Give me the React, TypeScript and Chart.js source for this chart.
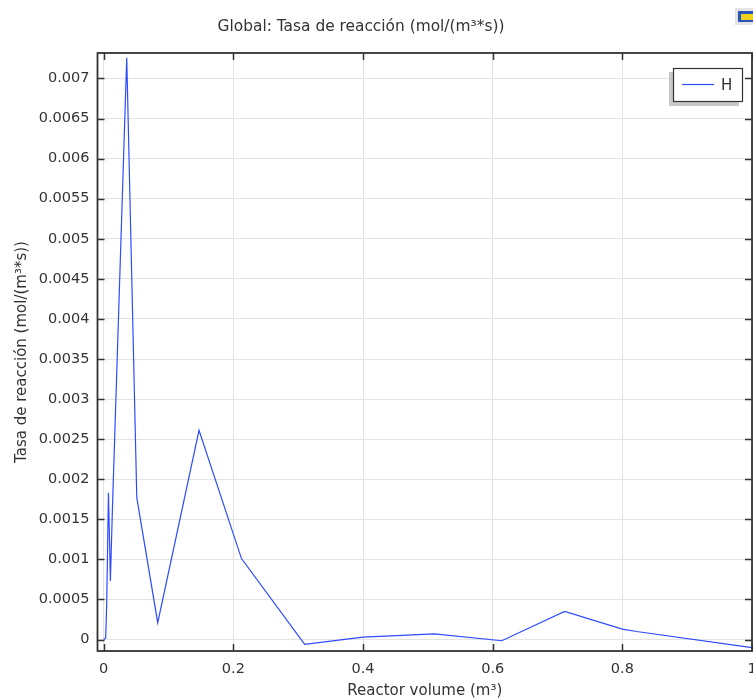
import React, { useEffect, useRef } from "react";
import { Chart, registerables } from "chart.js";

Chart.register(...registerables);

// Reactor volume (m³) and hydrogen reaction rate (mol/(m³*s)) along the reactor
const volume = [
  0, 0.003, 0.0046, 0.0073, 0.0103, 0.0134, 0.0355, 0.051, 0.0833, 0.147,
  0.2125, 0.31, 0.4, 0.51, 0.614, 0.711, 0.8, 0.822, 1.0,
];
const rate = [
  0, 0.00002, 0.00045, 0.00183, 0.00073, 0.00163, 0.00726, 0.00177, 0.00021,
  0.00261, 0.00101, -0.00006, 0.00003, 0.00007, -0.000015, 0.00035, 0.00013,
  0.0001, -0.0001,
];

const seriesLabel = "H";
const chartTitle = "Global: Tasa de reacción (mol/(m³*s))";
const xTitle = "Reactor volume (m³)";
const yTitle = "Tasa de reacción (mol/(m³*s))";

const xTickValues = [0, 0.2, 0.4, 0.6, 0.8, 1];
const yTickValues = [
  0, 0.0005, 0.001, 0.0015, 0.002, 0.0025, 0.003, 0.0035, 0.004, 0.0045,
  0.005, 0.0055, 0.006, 0.0065, 0.007,
];

const FONT = "'DejaVu Sans', sans-serif";
const TEXT = "#333333";
const LINE = "rgb(45, 75, 255)";

const fmt = (v: number) => String(Number(v.toFixed(6)));

// Frame with inward tick marks, title, legend box and corner badge
const decorations = {
  id: "decorations",
  afterDraw(chart: any) {
    const { ctx, chartArea, scales } = chart;
    const { left, right, top, bottom } = chartArea;
    const x = scales.x;
    const y = scales.y;
    ctx.save();

    // inward ticks
    ctx.strokeStyle = "#333333";
    ctx.lineWidth = 1.5;
    ctx.beginPath();
    const tl = 7;
    y.ticks.forEach((t: any) => {
      const py = Math.round(y.getPixelForValue(t.value)) + 0.5;
      ctx.moveTo(left, py);
      ctx.lineTo(left + tl, py);
      ctx.moveTo(right, py);
      ctx.lineTo(right - tl, py);
    });
    x.ticks.forEach((t: any) => {
      const px = Math.round(x.getPixelForValue(t.value)) + 0.5;
      ctx.moveTo(px, bottom);
      ctx.lineTo(px, bottom - tl);
      ctx.moveTo(px, top);
      ctx.lineTo(px, top + tl);
    });
    ctx.stroke();

    // frame
    ctx.lineWidth = 1.8;
    ctx.strokeStyle = "#333333";
    ctx.strokeRect(left, top, right - left, bottom - top);

    // title
    ctx.fillStyle = TEXT;
    ctx.font = `15.4px ${FONT}`;
    ctx.textAlign = "center";
    ctx.textBaseline = "middle";
    ctx.fillText(chartTitle, 361, 27);

    // legend
    const bx = 673, by = 68, bw = 70, bh = 34;
    ctx.fillStyle = "#c8c8c8";
    ctx.fillRect(bx - 4, by + 4, bw, bh);
    ctx.fillStyle = "#ffffff";
    ctx.fillRect(bx, by, bw, bh);
    ctx.strokeStyle = "#333333";
    ctx.lineWidth = 1.2;
    ctx.strokeRect(bx + 0.5, by + 0.5, bw - 1, bh - 1);
    ctx.strokeStyle = LINE;
    ctx.lineWidth = 1.2;
    ctx.beginPath();
    ctx.moveTo(682, 84.5);
    ctx.lineTo(714, 84.5);
    ctx.stroke();
    ctx.fillStyle = TEXT;
    ctx.font = `15px ${FONT}`;
    ctx.textAlign = "left";
    ctx.fillText(chart.data.datasets[0].label, 721, 86);

    // corner badge
    ctx.fillStyle = "#e4e4e4";
    ctx.fillRect(735, 8, 18, 17);
    ctx.fillStyle = "#2a55b8";
    ctx.fillRect(738, 11, 15, 11);
    ctx.fillStyle = "#f2d21c";
    ctx.fillRect(741, 14, 12, 6);

    ctx.restore();
  },
};

export default function App() {
  const canvasRef = useRef<HTMLCanvasElement | null>(null);

  useEffect(() => {
    if (!canvasRef.current) return;
    const chart = new Chart(canvasRef.current, {
      type: "scatter",
      data: {
        datasets: [
          {
            label: seriesLabel,
            data: volume.map((v, i) => ({ x: v, y: rate[i] })),
            showLine: true,
            borderColor: LINE,
            backgroundColor: LINE,
            borderWidth: 1.2,
            pointRadius: 0,
            tension: 0,
          },
        ],
      },
      options: {
        responsive: false,
        animation: false,
        layout: { padding: { left: 0, top: 53, right: 48, bottom: 0 } },
        plugins: {
          legend: { display: false },
          title: { display: false },
          tooltip: { enabled: false },
        },
        scales: {
          x: {
            type: "linear",
            min: -0.0096,
            max: 1.0,
            afterFit: (s: any) => {
              s.height = 49;
            },
            afterBuildTicks: (s: any) => {
              s.ticks = xTickValues.map((v) => ({ value: v }));
            },
            ticks: {
              font: { family: FONT, size: 14.5 },
              color: TEXT,
              padding: 10,
              maxRotation: 0,
              callback: (v: any) => fmt(Number(v)),
            },
            grid: { color: "#e3e3e3", drawTicks: false, lineWidth: 1 },
            border: { display: false },
            title: {
              display: true,
              text: xTitle,
              font: { family: FONT, size: 15 },
              color: TEXT,
              padding: { top: 0, bottom: 0 },
            },
          },
          y: {
            type: "linear",
            min: -0.000143,
            max: 0.007318,
            afterFit: (s: any) => {
              s.width = 97.5;
            },
            afterBuildTicks: (s: any) => {
              s.ticks = yTickValues.map((v) => ({ value: v }));
            },
            ticks: {
              font: { family: FONT, size: 14.5 },
              color: TEXT,
              padding: 8,
              callback: (v: any) => fmt(Number(v)),
            },
            grid: { color: "#e3e3e3", drawTicks: false, lineWidth: 1 },
            border: { display: false },
            title: {
              display: true,
              text: yTitle,
              font: { family: FONT, size: 15 },
              color: TEXT,
              padding: { top: 13, bottom: 0 },
            },
          },
        },
      },
      plugins: [decorations],
    });
    return () => chart.destroy();
  }, []);

  return (
    <div
      style={{
        position: "absolute",
        left: 0,
        top: 0,
        width: 753,
        height: 700,
        overflow: "hidden",
        background: "#ffffff",
      }}
    >
      <canvas
        ref={canvasRef}
        width={800}
        height={700}
        style={{ width: 800, height: 700, display: "block" }}
      />
    </div>
  );
}
